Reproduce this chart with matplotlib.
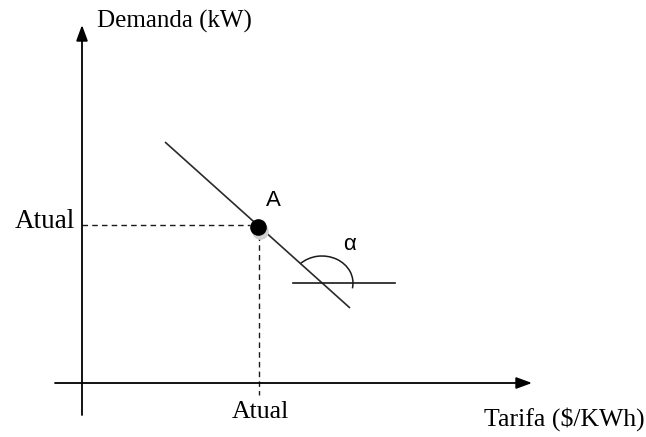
import matplotlib
matplotlib.use('Agg')
import matplotlib.pyplot as plt
from matplotlib.patches import Arc

# schematic data, origin at the axes crossing
y_axis_x = [0, 0]
y_axis_y = [-32, 358]
x_axis_x = [-27, 450]
x_axis_y = [0, 0]

demand_x = [83, 268]
demand_y = [241, 75]

point_a = (176, 156)
atual_x = 177
atual_y = 158

ref_x = [211, 313]
ref_y = [100, 100]
arc_center = (240, 100)

labels = {
    'y_title': 'Demanda (kW)',
    'x_title': 'Tarifa ($/KWh)',
    'atual': 'Atual',
    'point': 'A',
    'angle': 'α',
}

fig = plt.figure(figsize=(6.46, 4.37), dpi=100)
ax = fig.add_axes([0, 0, 1, 1])
ax.set_xlim(-82, 564)
ax.set_ylim(-54, 383)
ax.axis('off')

ink = '#1a1a1a'
serif = ['Liberation Serif', 'DejaVu Serif']
sans = ['Liberation Sans', 'DejaVu Sans']

# axes with arrow heads
arrow = dict(arrowstyle='-|>,head_length=0.95,head_width=0.35', color='black', lw=1.3,
             shrinkA=0, shrinkB=0)
ax.annotate('', xy=(y_axis_x[1], y_axis_y[1]), xytext=(y_axis_x[0], y_axis_y[0]), arrowprops=arrow)
ax.annotate('', xy=(x_axis_x[1], x_axis_y[1]), xytext=(x_axis_x[0], x_axis_y[0]), arrowprops=arrow)

# demand line
ax.plot(demand_x, demand_y, color='#2a2a2a', lw=1.2, solid_capstyle='butt')

# dashed guides to point A
ax.plot([0, point_a[0] - 8], [atual_y, atual_y], color=ink, lw=1.0, ls=(0, (4, 3)))
ax.plot([atual_x, atual_x], [point_a[1] - 8, -12], color=ink, lw=1.0, ls=(0, (4, 3)))

# point A with a faint shadow
ax.plot(point_a[0] + 2, point_a[1] - 4, 'o', color='#d0d0d0', ms=12, mec='none')
ax.plot(point_a[0], point_a[1], 'o', color='black', ms=12, mec='none')

# reference line and angle arc
ax.plot(ref_x, ref_y, color=ink, lw=1.2)
ax.add_patch(Arc(arc_center, 62, 54, theta1=-10, theta2=139, color=ink, lw=1.1))

# texts
ax.text(15, 362, labels['y_title'], family=serif, fontsize=18, va='center', ha='left')
ax.text(563, -36, labels['x_title'], family=serif, fontsize=18.5, va='center', ha='right')
ax.text(-7, 162, labels['atual'], family=serif, fontsize=19.5, va='center', ha='right')
ax.text(atual_x + 1, -29, labels['atual'], family=serif, fontsize=18.5, va='center', ha='center')
ax.text(191, 182, labels['point'], family=sans, fontsize=16, va='center', ha='center')
ax.text(268, 138, labels['angle'], family=sans, fontsize=16, va='center', ha='center')

fig.savefig('out.png', dpi=100)
